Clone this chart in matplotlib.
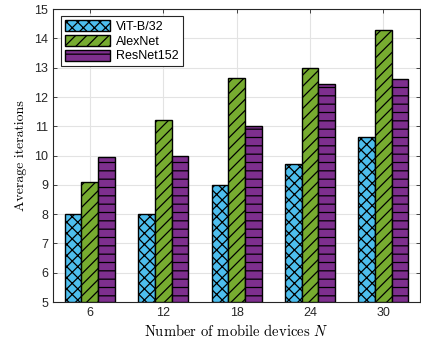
import numpy as np
import matplotlib
matplotlib.use('Agg')
import matplotlib.pyplot as plt

plt.rcParams['mathtext.fontset'] = 'cm'
plt.rcParams['hatch.linewidth'] = 0.9
plt.rcParams['font.family'] = ['Liberation Sans', 'DejaVu Sans']

# 设备数量与各模型的平均迭代次数
devices = [6, 12, 18, 24, 30]
vit = [8.0, 8.0, 9.0, 9.73, 10.64]
alexnet = [9.1, 11.2, 12.64, 13.0, 14.3]
resnet = [9.95, 10.0, 11.0, 12.45, 12.6]

names = ['ViT-B/32', 'AlexNet', 'ResNet152']
colors = ['#4DBEEE', '#77AC30', '#7E2F8E']
hatches = ['xxx', '///', '--']

fig = plt.figure(figsize=(4.21, 3.39), dpi=100)
ax = fig.add_axes([0.126, 0.109, 0.872, 0.864])

x = np.array(devices, dtype=float)
w = 1.36
for i, vals in enumerate([vit, alexnet, resnet]):
    ax.bar(x + (i - 1) * w, np.array(vals) - 5, width=w, bottom=5,
           color=colors[i], edgecolor='black', linewidth=1.0,
           hatch=hatches[i], label=names[i], zorder=3)

ax.set_xlim(3, 33)
ax.set_ylim(5, 15)
ax.set_xticks(devices)
ax.set_yticks(range(5, 16))
ax.grid(True, color='#e3e3e3', linewidth=0.8, zorder=0)
ax.tick_params(direction='in', length=3, width=0.6, labelsize=9,
               top=True, right=True, colors='#262626', labelcolor='#262626')
for s in ax.spines.values():
    s.set_color('#262626')
    s.set_linewidth(0.8)

ax.set_xlabel('Number of mobile devices $N$', fontname='cmr10', fontsize=10.5,
              labelpad=3)
ax.set_ylabel('Average iterations', fontname='cmr10', fontsize=10, labelpad=5)

leg = ax.legend(loc='upper left', fontsize=9, handlelength=3.6,
                handleheight=1.0, borderpad=0.3, labelspacing=0.15,
                handletextpad=0.5, fancybox=False, framealpha=1,
                edgecolor='#262626', bbox_to_anchor=(0.005, 0.997))
leg.get_frame().set_linewidth(0.8)

fig.savefig('out.png', dpi=100)
